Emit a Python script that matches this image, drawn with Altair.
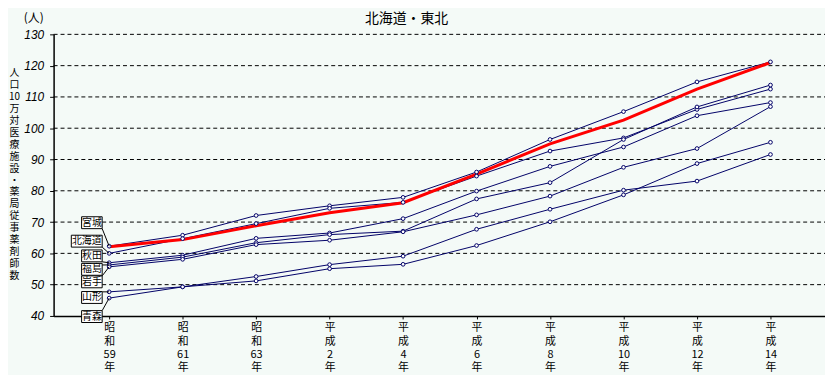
import json
import altair as alt
import pandas as pd

# ---- data ----
year_labels = ["昭和59年", "昭和61年", "昭和63年", "平成2年", "平成4年",
               "平成6年", "平成8年", "平成10年", "平成12年", "平成14年"]
year_rows = [["昭", "和", "59", "年"], ["昭", "和", "61", "年"], ["昭", "和", "63", "年"],
             ["平", "成", "2", "年"], ["平", "成", "4", "年"], ["平", "成", "6", "年"],
             ["平", "成", "8", "年"], ["平", "成", "10", "年"], ["平", "成", "12", "年"],
             ["平", "成", "14", "年"]]

prefs = ["宮城", "北海道", "秋田", "福島", "岩手", "山形", "青森"]
miyagi = [62.3, 65.8, 72.1, 75.2, 77.9, 86.0, 96.4, 105.3, 114.8, 121.2]
hokkaido = [60.0, 64.7, 69.5, 74.4, 76.3, 84.7, 92.7, 96.9, 106.0, 112.5]
akita = [57.0, 59.4, 64.8, 66.5, 71.1, 79.9, 87.8, 94.0, 104.0, 108.2]
fukushima = [56.3, 58.8, 63.4, 66.0, 67.1, 77.4, 82.6, 96.4, 106.8, 113.8]
iwate = [55.7, 58.1, 62.8, 64.2, 66.9, 72.3, 78.3, 87.5, 93.5, 106.9]
yamagata = [47.7, 49.3, 52.6, 56.4, 59.1, 67.7, 74.1, 80.2, 83.1, 91.6]
aomori = [45.7, 49.3, 51.2, 55.1, 56.5, 62.5, 70.1, 78.7, 88.7, 95.5]
national = [62.1, 64.4, 68.8, 73.0, 76.2, 85.3, 95.0, 102.6, 112.5, 121.0]

series_values = [miyagi, hokkaido, akita, fukushima, iwate, yamagata, aomori]

y_ticks = [40, 50, 60, 70, 80, 90, 100, 110, 120, 130]
grid_values = [50, 60, 70, 80, 90, 100, 110, 120, 130]

chart_title = "北海道・東北"
unit_text = "(人)"
y_title = ["人", "口", "10", "万", "対", "医", "療", "施", "設", "・",
           "薬", "局", "従", "事", "薬", "剤", "師", "数"]

# label box layout (data units)
label_centers = [69.8, 63.9, 59.2, 54.9, 50.9, 45.9, 39.8]
BOX_RIGHT = -0.095
CHAR_W = 0.14
BOX_HALF_H = 1.9

NAVY = "#000066"
BG = "#F4FAF7"
JP = "Noto Sans CJK JP"
W, H = 778, 284

rows = []
for name, vals in zip(prefs, series_values):
    for i, v in enumerate(vals):
        rows.append({"i": i, "series": name, "value": v})
df = pd.DataFrame(rows)
df_nat = pd.DataFrame({"i": list(range(len(national))), "value": national})
df_grid = pd.DataFrame({"value": grid_values})

boxes = []
for name, yc, vals in zip(prefs, label_centers, series_values):
    n = len(name)
    left = BOX_RIGHT - n * CHAR_W
    y0 = min(max(vals[0], yc - BOX_HALF_H), yc + BOX_HALF_H)
    boxes.append({"name": name, "xl": left, "xr": BOX_RIGHT, "xc": (left + BOX_RIGHT) / 2,
                  "yb": yc - BOX_HALF_H, "yt": yc + BOX_HALF_H, "yc": yc,
                  "ys": y0, "x0": 0, "v0": vals[0]})
df_box = pd.DataFrame(boxes)

label_expr = json.dumps(year_rows, ensure_ascii=False) + "[datum.value]"

x_scale = alt.Scale(domain=[-0.756, 9.742], nice=False, zero=False)
y_scale = alt.Scale(domain=[40, 130], nice=False, zero=False)

x_axis = alt.Axis(
    values=list(range(10)), labelExpr=label_expr, grid=False, title=None,
    domainColor="black", domainWidth=1.5, tickColor="black", tickSize=3,
    labelFont=JP, labelFontSize=11, labelColor="black", labelAngle=0,
    labelAlign="center", labelBaseline="top", labelLineHeight=13.5, labelPadding=3,
    labelOverlap=False)
y_axis = alt.Axis(
    values=y_ticks, tickCount=10, grid=False, labelOverlap=False,
    domainColor="black", domainWidth=1.5, tickColor="black", tickSize=4,
    labelFont="Liberation Sans", labelFontStyle="italic", labelFontSize=12,
    labelColor="black", labelPadding=6,
    title=y_title, titleAngle=0, titleAlign="center", titleBaseline="top",
    titleX=-40, titleY=34, titleFont=JP, titleFontSize=10, titleFontWeight="normal",
    titleLineHeight=12, titleColor="black")

y_enc = alt.Y("value:Q", scale=y_scale, axis=y_axis)
x_enc = alt.X("i:Q", scale=x_scale, axis=x_axis)

grid = alt.Chart(df_grid).mark_rule(color="black", strokeWidth=1, strokeDash=[4, 3]).encode(
    y=y_enc, x=alt.value(0), x2=alt.value(W))

base = alt.Chart(df)
lines = base.mark_line(color=NAVY, strokeWidth=1).encode(x=x_enc, y=y_enc, detail="series:N")
points = base.mark_point(shape="circle", size=14, filled=True, fill="white",
                         stroke=NAVY, strokeWidth=1, opacity=1).encode(
    x=x_enc, y=y_enc, detail="series:N")
red = alt.Chart(df_nat).mark_line(color="#FF0000", strokeWidth=3).encode(x=x_enc, y=y_enc)

leaders = alt.Chart(df_box).mark_rule(color="black", strokeWidth=1).encode(
    x="xr:Q", y="ys:Q", x2="x0:Q", y2="v0:Q")
rects = alt.Chart(df_box).mark_rect(fill="white", stroke="black", strokeWidth=1).encode(
    x="xl:Q", x2="xr:Q", y="yb:Q", y2="yt:Q")
texts = alt.Chart(df_box).mark_text(font=JP, fontSize=10, color="black").encode(
    x="xc:Q", y="yc:Q", text="name:N")

unit = alt.Chart(pd.DataFrame({"t": [unit_text]})).mark_text(
    font=JP, fontSize=12, color="black", align="center", baseline="middle").encode(
    x=alt.value(-20), y=alt.value(-16), text="t:N")
title = alt.Chart(pd.DataFrame({"t": [chart_title]})).mark_text(
    font=JP, fontSize=14, color="black", align="center", baseline="middle").encode(
    x=alt.value(356), y=alt.value(-15), text="t:N")

chart = alt.layer(grid, lines, red, points, leaders, rects, texts, unit, title).properties(
    width=W, height=H,
    autosize=alt.AutoSizeParams(type="none"),
    padding={"left": 46, "top": 25, "right": 0, "bottom": 60},
    background=BG,
).configure_view(stroke=None)

chart.save("out.html", embed_options={"renderer": "svg", "actions": False})
